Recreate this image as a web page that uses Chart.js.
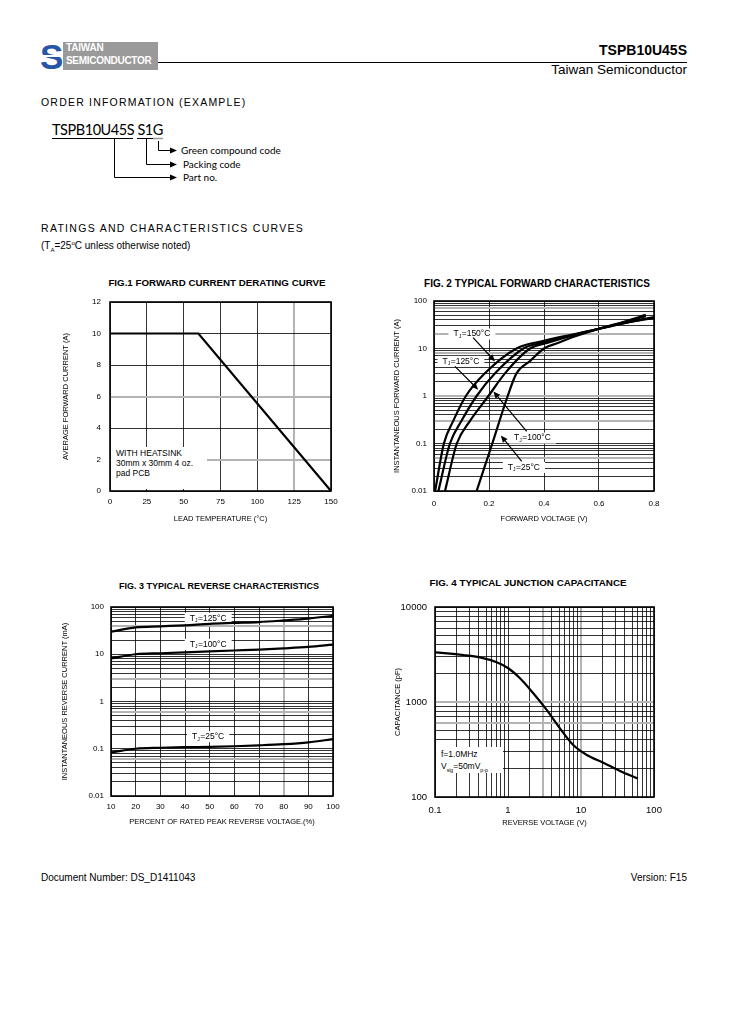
<!DOCTYPE html>
<html>
<head>
<meta charset="utf-8">
<script src="https://cdn.jsdelivr.net/npm/chart.js@4.4.1/dist/chart.umd.min.js"></script>
<style>
  body { margin: 0; background: #fff; font-family: "Liberation Sans", Arial, sans-serif; color: #000; }
  #page { position: relative; width: 729px; height: 1032px; overflow: hidden; }
  .t { position: absolute; white-space: nowrap; line-height: 1; }
  .figtitle { position: absolute; width: 300px; text-align: center; font-weight: bold; line-height: 1; white-space: nowrap; }
  .cal { font-family: Lato, "Open Sans", sans-serif; }
  canvas { position: absolute; }
  .note { position: absolute; background: #fff; font-size: 8.5px; white-space: nowrap; }
  sub, sup { font-size: 60%; line-height: 0; }
</style>
</head>
<body>
<div id="page">
  <!-- header -->
  <svg style="position:absolute;left:41px;top:42px" width="22" height="28">
    <text x="-1" y="27" font-size="35" font-weight="bold" fill="#2756a4" font-family="Liberation Sans">S</text>
    <rect x="0" y="13" width="22" height="2" fill="#fff"></rect>
  </svg>
  <div style="position:absolute;left:63px;top:42px;width:95px;height:28px;background:#9a9a9a"></div>
  <div class="t" style="left:66px;top:43px;font-size:10px;font-weight:bold;color:#fff;letter-spacing:-0.2px">TAIWAN</div>
  <div class="t" style="left:66px;top:56px;font-size:10px;font-weight:bold;color:#fff;letter-spacing:-0.3px">SEMICONDUCTOR</div>
  <div style="position:absolute;left:158px;top:62px;width:529px;height:1.3px;background:#000"></div>
  <div class="t" style="right:42px;top:43px;font-size:14px;font-weight:bold">TSPB10U45S</div>
  <div class="t" style="right:42px;top:63px;font-size:13.5px">Taiwan Semiconductor</div>

  <!-- order information -->
  <div class="t" style="left:41px;top:97px;font-size:10.5px;letter-spacing:1.2px">ORDER INFORMATION (EXAMPLE)</div>
  <div class="t cal" style="left:52px;top:123px;font-size:14.5px;letter-spacing:-0.45px">TSPB10U45S S1G</div>
  <svg style="position:absolute;left:0;top:0" width="729" height="200">
    <g stroke="#000" stroke-width="1" fill="none">
      <line x1="52" y1="138.5" x2="133" y2="138.5"></line>
      <line x1="137" y1="138.5" x2="153" y2="138.5"></line>
      <polyline points="114.5,138.5 114.5,177.5 171,177.5"></polyline>
      <polyline points="146.5,138.5 146.5,164.5 171,164.5"></polyline>
      <polyline points="158.5,141 158.5,150.5 171,150.5"></polyline>
    </g>
    <line x1="153" y1="138.5" x2="163" y2="138.5" stroke="#999" stroke-width="1.5"></line>
    <g fill="#000">
      <polygon points="170,174.5 177,177.5 170,180.5"></polygon>
      <polygon points="170,161.5 177,164.5 170,167.5"></polygon>
      <polygon points="170,147.5 177,150.5 170,153.5"></polygon>
    </g>
  </svg>
  <div class="t cal" style="left:181px;top:145px;font-size:10px">Green compound code</div>
  <div class="t cal" style="left:183px;top:159px;font-size:10px">Packing code</div>
  <div class="t cal" style="left:183px;top:172px;font-size:10px">Part no.</div>

  <div class="t" style="left:41px;top:223px;font-size:10.5px;letter-spacing:1.3px">RATINGS AND CHARACTERISTICS CURVES</div>
  <div class="t" style="left:41px;top:241px;font-size:10px">(T<sub>A</sub>=25<sup>o</sup>C unless otherwise noted)</div>

  <!-- figure titles -->
  <div class="figtitle" style="left:67px;top:278px;font-size:9.75px">FIG.1 FORWARD CURRENT DERATING CURVE</div>
  <div class="figtitle" style="left:387px;top:279px;font-size:10px">FIG. 2 TYPICAL FORWARD CHARACTERISTICS</div>
  <div class="figtitle" style="left:69px;top:582px;font-size:9px">FIG. 3 TYPICAL REVERSE CHARACTERISTICS</div>
  <div class="figtitle" style="left:378px;top:578px;font-size:9.8px">FIG. 4 TYPICAL JUNCTION CAPACITANCE</div>

  <canvas id="fig1"></canvas>
  <canvas id="fig2"></canvas>
  <canvas id="fig3"></canvas>
  <canvas id="fig4"></canvas>

  <div class="note" style="left:111px;top:447px;width:91px;height:41px;padding-left:5px;padding-top:1px;line-height:10px">WITH HEATSINK<br>30mm x 30mm 4 oz.<br>pad PCB</div>
  <div class="note" style="left:436px;top:747px;width:62px;height:24px;padding-left:5px;padding-top:2px;line-height:11.5px">f=1.0MHz<br>V<sub>sig</sub>=50mV<sub>p-p</sub></div>

  <!-- footer -->
  <div class="t" style="left:41px;top:873px;font-size:10px">Document Number: DS_D1411043</div>
  <div class="t" style="right:42px;top:873px;font-size:10px">Version: F15</div>
</div>

<script>
// ---- FIG.1 forward current derating ----
const fig1Temp = [0, 60, 150];
const fig1Current = [10, 10, 0];
const fig1XTicks = [0, 25, 50, 75, 100, 125, 150];
const fig1XLabels = ["0", "25", "50", "75", "100", "125", "150"];
const fig1YTicks = [0, 2, 4, 6, 8, 10, 12];
const fig1YLabels = ["0", "2", "4", "6", "8", "10", "12"];

// ---- FIG.2 forward characteristics (V, A) ----
const fig2V150 = [0.004, 0.036, 0.07, 0.116, 0.185, 0.30, 0.40, 0.50, 0.60, 0.70, 0.80];
const fig2I150 = [0.01, 0.1, 0.3, 1, 3, 10, 14.5, 19.5, 26, 35, 46];
const fig2V125 = [0.016, 0.058, 0.10, 0.155, 0.222, 0.325, 0.40, 0.50, 0.60, 0.70, 0.80];
const fig2I125 = [0.01, 0.1, 0.3, 1, 3, 10, 13.5, 19, 26, 35, 44];
const fig2V100 = [0.04, 0.083, 0.131, 0.198, 0.258, 0.349, 0.42, 0.50, 0.60, 0.70, 0.77];
const fig2I100 = [0.01, 0.1, 0.3, 1, 3, 10, 13.5, 18.5, 26, 37, 48];
const fig2V25 = [0.155, 0.212, 0.268, 0.30, 0.35, 0.40, 0.45, 0.50, 0.60, 0.70, 0.77];
const fig2I25 = [0.01, 0.1, 1, 3, 5.5, 10, 13, 17, 26, 38, 51];
const fig2XTicks = [0, 0.2, 0.4, 0.6, 0.8];
const fig2XLabels = ["0", "0.2", "0.4", "0.6", "0.8"];
const fig2YTicks = [0.01, 0.1, 1, 10, 100];
const fig2YLabels = ["0.01", "0.1", "1", "10", "100"];

// ---- FIG.3 reverse characteristics (% VRRM, mA) ----
const fig3Percent = [10, 20, 30, 40, 50, 60, 70, 80, 90, 100];
const fig3I125 = [30, 37, 39, 41, 44, 46, 48, 52, 57, 65];
const fig3I100 = [8.2, 10, 10.5, 11, 11.5, 12, 12.5, 13.3, 14.3, 16];
const fig3I25 = [0.083, 0.1, 0.105, 0.108, 0.11, 0.113, 0.118, 0.125, 0.137, 0.16];
const fig3XTicks = [10, 20, 30, 40, 50, 60, 70, 80, 90, 100];
const fig3XLabels = ["10", "20", "30", "40", "50", "60", "70", "80", "90", "100"];
const fig3YTicks = [0.01, 0.1, 1, 10, 100];
const fig3YLabels = ["0.01", "0.1", "1", "10", "100"];

// ---- FIG.4 junction capacitance (V, pF) ----
const fig4Volt = [0.1, 0.244, 0.413, 0.70, 1.01, 1.46, 2.22, 3.39, 5.15, 7.83, 12, 20.2, 34.2, 59.8];
const fig4Cap = [3335, 3125, 2950, 2620, 2265, 1775, 1235, 825, 528, 352, 277, 230, 188, 157];
const fig4XTicks = [0.1, 1, 10, 100];
const fig4XLabels = ["0.1", "1", "10", "100"];
const fig4YTicks = [100, 1000, 10000];
const fig4YLabels = ["100", "1000", "10000"];

const GRAY = "#b4b4b4";
const FONT = '"Liberation Sans", Arial, sans-serif';

function near(a, b) {
  return Math.abs(a - b) <= 1e-6 * Math.max(Math.abs(a), Math.abs(b), 1e-9);
}

// grid positions 1..9 for every decade of a log axis
function decadeGrid(min, max) {
  const out = [];
  for (let e = Math.round(Math.log10(min)); e < Math.round(Math.log10(max)); e++) {
    for (let m = 1; m < 10; m++) out.push(m * Math.pow(10, e));
  }
  out.push(max);
  return out;
}

function pts(xs, ys) {
  return xs.map((x, i) => ({ x: x, y: ys[i] }));
}

function line(xs, ys, mono) {
  return {
    data: pts(xs, ys),
    borderColor: "#000",
    borderWidth: 2.2,
    pointRadius: 0,
    tension: 0,
    cubicInterpolationMode: mono ? "monotone" : "default",
  };
}

const framePlugin = {
  id: "frame",
  afterDraw(chart) {
    const { ctx, chartArea: a } = chart;
    ctx.save();
    ctx.strokeStyle = "#000";
    ctx.lineWidth = 1.6;
    ctx.strokeRect(a.left, a.top, a.right - a.left, a.bottom - a.top);
    ctx.restore();
  },
};

// "TJ=xxx°C" labels (under the curves) and pointer arrows (over them)
function notesPlugin(labels, arrows) {
  return {
    id: "notes",
    beforeDatasetsDraw(chart) {
      const { ctx, scales } = chart;
      ctx.save();
      ctx.textBaseline = "middle";
      labels.forEach((l) => {
        const px = scales.x.getPixelForValue(l.x);
        const py = scales.y.getPixelForValue(l.y);
        const rest = "=" + l.t + "\u00b0C";
        ctx.font = "8.5px " + FONT;
        const wT = ctx.measureText("T").width;
        const wR = ctx.measureText(rest).width;
        ctx.font = "5px " + FONT;
        const wJ = ctx.measureText("J").width + 0.5;
        const w = wT + wJ + wR;
        const left = px - w / 2;
        ctx.fillStyle = "#fff";
        ctx.fillRect(left - 5, py - 5.5, w + 10, 11);
        ctx.fillStyle = "#000";
        ctx.font = "8.5px " + FONT;
        ctx.fillText("T", left, py);
        ctx.fillText(rest, left + wT + wJ, py);
        ctx.font = "5px " + FONT;
        ctx.fillText("J", left + wT, py + 2.5);
      });
      ctx.restore();
    },
    afterDatasetsDraw(chart) {
      const { ctx, scales } = chart;
      ctx.save();
      ctx.strokeStyle = "#000";
      ctx.fillStyle = "#000";
      ctx.lineWidth = 1.2;
      arrows.forEach((a) => {
        const x1 = scales.x.getPixelForValue(a[0]);
        const y1 = scales.y.getPixelForValue(a[1]);
        const x2 = scales.x.getPixelForValue(a[2]);
        const y2 = scales.y.getPixelForValue(a[3]);
        const ang = Math.atan2(y2 - y1, x2 - x1);
        const hx = x2 - 7 * Math.cos(ang);
        const hy = y2 - 7 * Math.sin(ang);
        ctx.beginPath();
        ctx.moveTo(x1, y1);
        ctx.lineTo(hx, hy);
        ctx.stroke();
        ctx.beginPath();
        ctx.moveTo(x2, y2);
        ctx.lineTo(hx + 3 * Math.sin(ang), hy - 3 * Math.cos(ang));
        ctx.lineTo(hx - 3 * Math.sin(ang), hy + 3 * Math.cos(ang));
        ctx.closePath();
        ctx.fill();
      });
      ctx.restore();
    },
  };
}

function axis(c, isX, size) {
  return {
    type: c.type,
    min: c.min,
    max: c.max,
    afterBuildTicks: (s) => {
      s.ticks = c.grid.map((v) => ({ value: v }));
    },
    afterFit: (s) => {
      if (isX) s.height = size;
      else s.width = size;
    },
    ticks: {
      autoSkip: false,
      maxRotation: 0,
      padding: c.pad,
      color: "#000",
      font: { family: FONT, size: c.fs },
      callback: (v) => {
        const i = c.tickVals.findIndex((t) => near(t, v));
        return i < 0 ? "" : c.tickText[i];
      },
    },
    grid: {
      drawTicks: false,
      color: (ctx) => (ctx.tick && c.gray.some((g) => near(g, ctx.tick.value)) ? GRAY : "#000"),
      lineWidth: (ctx) => (ctx.tick && c.gray.some((g) => near(g, ctx.tick.value)) ? 2 : 0.8),
    },
    border: { display: false },
    title: {
      display: true,
      text: c.title,
      color: "#000",
      font: { family: FONT, size: 7.5, lineHeight: 1.2 },
      padding: isX ? { top: 0, bottom: c.tpad } : { top: c.tpad, bottom: 0 },
    },
  };
}

// box = canvas rect on the page, area = wanted plot rect on the page
function makeChart(id, box, area, x, y, datasets, notes) {
  const cv = document.getElementById(id);
  cv.width = box.w;
  cv.height = box.h;
  cv.style.left = box.x + "px";
  cv.style.top = box.y + "px";
  const yW = area.l - box.x;
  const xH = box.y + box.h - area.b;
  return new Chart(cv, {
    type: "line",
    data: { datasets: datasets },
    options: {
      responsive: false,
      animation: false,
      events: [],
      layout: { padding: { left: 0, top: area.t - box.y, right: box.x + box.w - area.r, bottom: 0 } },
      plugins: { legend: { display: false }, tooltip: { enabled: false } },
      scales: { x: axis(x, true, xH), y: axis(y, false, yW) },
    },
    plugins: [framePlugin, notesPlugin(notes.labels, notes.arrows)],
  });
}

// FIG.1
makeChart("fig1",
  { x: 50, y: 282, w: 301, h: 248 },
  { l: 110, t: 302, r: 331, b: 491 },
  { type: "linear", min: 0, max: 150, grid: fig1XTicks, tickVals: fig1XTicks, tickText: fig1XLabels,
    gray: [125], pad: 6, fs: 8, title: "LEAD TEMPERATURE (\u00b0C)", tpad: 6.5 },
  { type: "linear", min: 0, max: 12, grid: fig1YTicks, tickVals: fig1YTicks, tickText: fig1YLabels,
    gray: [2, 6], pad: 9, fs: 8, title: "AVERAGE FORWARD CURRENT (A)", tpad: 11.5 },
  [line(fig1Temp, fig1Current, false)],
  { labels: [], arrows: [] });

// FIG.2
makeChart("fig2",
  { x: 380, y: 281, w: 294, h: 249 },
  { l: 434, t: 301, r: 654, b: 491 },
  { type: "linear", min: 0, max: 0.8, grid: fig2XTicks, tickVals: fig2XTicks, tickText: fig2XLabels,
    gray: [], pad: 8, fs: 8, title: "FORWARD VOLTAGE (V)", tpad: 6.5 },
  { type: "logarithmic", min: 0.01, max: 100, grid: decadeGrid(0.01, 100), tickVals: fig2YTicks, tickText: fig2YLabels,
    gray: [70, 20, 8, 1, 0.3, 0.05], pad: 7, fs: 8, title: "INSTANTANEOUS FORWARD CURRENT (A)", tpad: 12.5 },
  [line(fig2V150, fig2I150, true), line(fig2V125, fig2I125, true), line(fig2V100, fig2I100, true), line(fig2V25, fig2I25, true)],
  {
    labels: [
      { x: 0.138, y: 20.2, t: "150" },
      { x: 0.098, y: 5.35, t: "125" },
      { x: 0.358, y: 0.13, t: "100" },
      { x: 0.327, y: 0.0314, t: "25" },
    ],
    arrows: [
      [0.142, 16.9, 0.222, 5.35],
      [0.076, 4.2, 0.161, 1.36],
      [0.337, 0.18, 0.216, 1.25],
      [0.319, 0.042, 0.243, 0.148],
    ],
  });

// FIG.3
makeChart("fig3",
  { x: 50, y: 587, w: 303, h: 246 },
  { l: 111, t: 607, r: 333, b: 796 },
  { type: "linear", min: 10, max: 100, grid: fig3XTicks, tickVals: fig3XTicks, tickText: fig3XLabels,
    gray: [80], pad: 6, fs: 8, title: "PERCENT OF RATED PEAK REVERSE VOLTAGE.(%)", tpad: 6.5 },
  { type: "logarithmic", min: 0.01, max: 100, grid: decadeGrid(0.01, 100), tickVals: fig3YTicks, tickText: fig3YLabels,
    gray: [40, 3, 0.6, 0.06], pad: 7, fs: 8, title: "INSTANTANEOUS REVERSE CURRENT (mA)", tpad: 10.5 },
  [line(fig3Percent, fig3I125, true), line(fig3Percent, fig3I100, true), line(fig3Percent, fig3I25, true)],
  {
    labels: [
      { x: 49.4, y: 57.7, t: "125" },
      { x: 49.4, y: 16.2, t: "100" },
      { x: 49.4, y: 0.18, t: "25" },
    ],
    arrows: [],
  });

// FIG.4
makeChart("fig4",
  { x: 380, y: 587, w: 294, h: 247 },
  { l: 435, t: 607, r: 654, b: 797 },
  { type: "logarithmic", min: 0.1, max: 100, grid: decadeGrid(0.1, 100), tickVals: fig4XTicks, tickText: fig4XLabels,
    gray: [3, 10], pad: 8, fs: 9.5, title: "REVERSE VOLTAGE (V)", tpad: 6.5 },
  { type: "logarithmic", min: 100, max: 10000, grid: decadeGrid(100, 10000), tickVals: fig4YTicks, tickText: fig4YLabels,
    gray: [1000, 600], pad: 8, fs: 9.5, title: "CAPACITANCE (pF)", tpad: 13.5 },
  [line(fig4Volt, fig4Cap, true)],
  { labels: [], arrows: [] });
</script>
</body>
</html>
